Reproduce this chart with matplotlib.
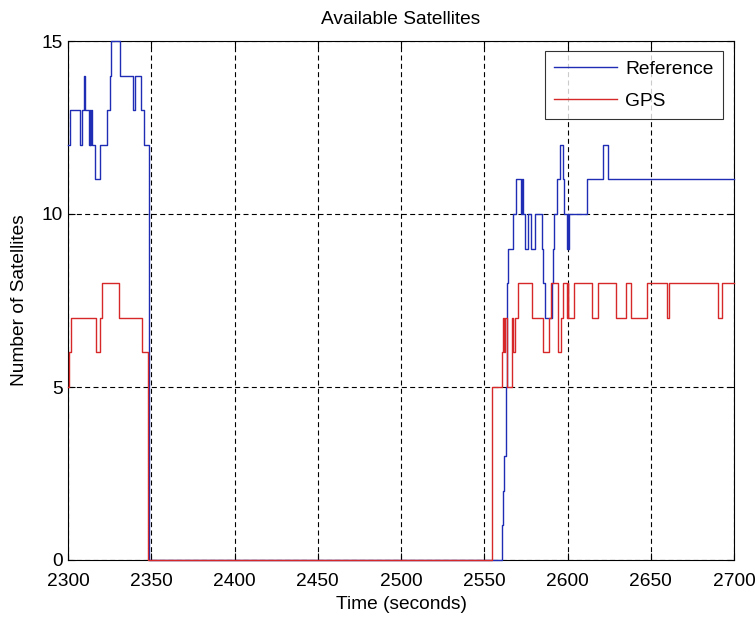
import matplotlib
matplotlib.use("Agg")
import matplotlib.pyplot as plt

# Satellite counts, stored as (time of change, count held from that time)
ref_t = [2300, 2301.5, 2307.5, 2308.5, 2309.5, 2310.5, 2312.5, 2313.0, 2313.5, 2314.0,
         2314.5, 2316.5, 2319.5, 2323.5, 2325.0, 2326.0, 2331.0, 2339.0, 2340.0, 2344.0,
         2345.5, 2348.5, 2560.5, 2561.5, 2562.0, 2563.0, 2563.5, 2564.0, 2567.5, 2569.0,
         2572.0, 2572.5, 2573.0, 2574.5, 2576.0, 2578.0, 2580.5, 2584.5, 2585.5, 2586.5,
         2590.5, 2591.5, 2592.0, 2593.5, 2595.5, 2597.5, 2598.0, 2599.5, 2600.0, 2600.5,
         2601.0, 2612.0, 2621.5, 2624.5, 2700]
ref_n = [12, 13, 12, 13, 14, 13, 12, 13, 12, 13,
         12, 11, 12, 13, 14, 15, 14, 13, 14, 13,
         12, 0, 1, 2, 3, 5, 8, 9, 10, 11,
         10, 11, 10, 9, 10, 9, 10, 9, 8, 7,
         8, 9, 10, 11, 12, 11, 10, 9, 10, 9,
         10, 11, 12, 11, 11]

gps_t = [2300, 2300.5, 2302.0, 2317.0, 2319.5, 2320.5, 2330.5, 2344.5, 2348.0, 2554.5,
         2560.5, 2561.5, 2562.0, 2562.5, 2563.5, 2566.5, 2567.5, 2568.5, 2570.5, 2578.5,
         2585.0, 2589.0, 2590.0, 2594.5, 2596.0, 2597.0, 2599.5, 2600.0, 2600.5, 2604.0,
         2615.0, 2618.5, 2629.0, 2635.0, 2638.0, 2648.0, 2659.5, 2661.0, 2690.5, 2693.0,
         2700]
gps_n = [5, 6, 7, 6, 7, 8, 7, 6, 0, 5,
         6, 7, 6, 7, 5, 7, 6, 7, 8, 7,
         6, 7, 8, 6, 7, 8, 7, 8, 7, 8,
         7, 8, 7, 8, 7, 8, 7, 8, 7, 8,
         8]

x_ticks = [2300, 2350, 2400, 2450, 2500, 2550, 2600, 2650, 2700]
y_ticks = [0, 5, 10, 15]

plt.rcParams["font.family"] = ["Liberation Sans", "DejaVu Sans"]
FS = 13.8

fig = plt.figure(figsize=(7.55, 6.21), dpi=100, facecolor="white")
ax = fig.add_axes([68 / 755, 1 - 560 / 621, (734 - 68) / 755, (560 - 41) / 621])

ax.plot(ref_t, ref_n, drawstyle="steps-post", color="#1f2db5", lw=1.0,
        label="Reference", zorder=3, clip_on=False)
ax.plot(gps_t, gps_n, drawstyle="steps-post", color="#d62828", lw=1.0,
        label="GPS", zorder=3.1, clip_on=False)

ax.set_xlim(2300, 2700)
ax.set_ylim(0, 15)
ax.set_xticks(x_ticks)
ax.set_yticks(y_ticks)
ax.tick_params(direction="in", length=5, width=0.8, top=True, right=True,
               labelsize=FS, colors="black")
ax.tick_params(axis="x", pad=9)
ax.tick_params(axis="y", pad=4)
ax.grid(True, color="black", linestyle=(0, (4.5, 3.0)), linewidth=0.8)
for s in ax.spines.values():
    s.set_linewidth(0.8)
    s.set_color("black")

ax.set_title("Available Satellites", fontsize=FS, pad=12.5)
ax.set_xlabel("Time (seconds)", fontsize=FS, labelpad=5)
ax.set_ylabel("Number of Satellites", fontsize=FS, labelpad=9.5)

leg = ax.legend(loc="upper right", bbox_to_anchor=(1 - 11 / 666, 1 - 10 / 519),
                borderaxespad=0, fontsize=FS, frameon=True, fancybox=False,
                edgecolor="black", handlelength=3.3, handletextpad=0.4,
                labelspacing=0.75, borderpad=0.5)
leg.get_frame().set_linewidth(0.8)

fig.savefig("out.png", dpi=100, facecolor="white")
